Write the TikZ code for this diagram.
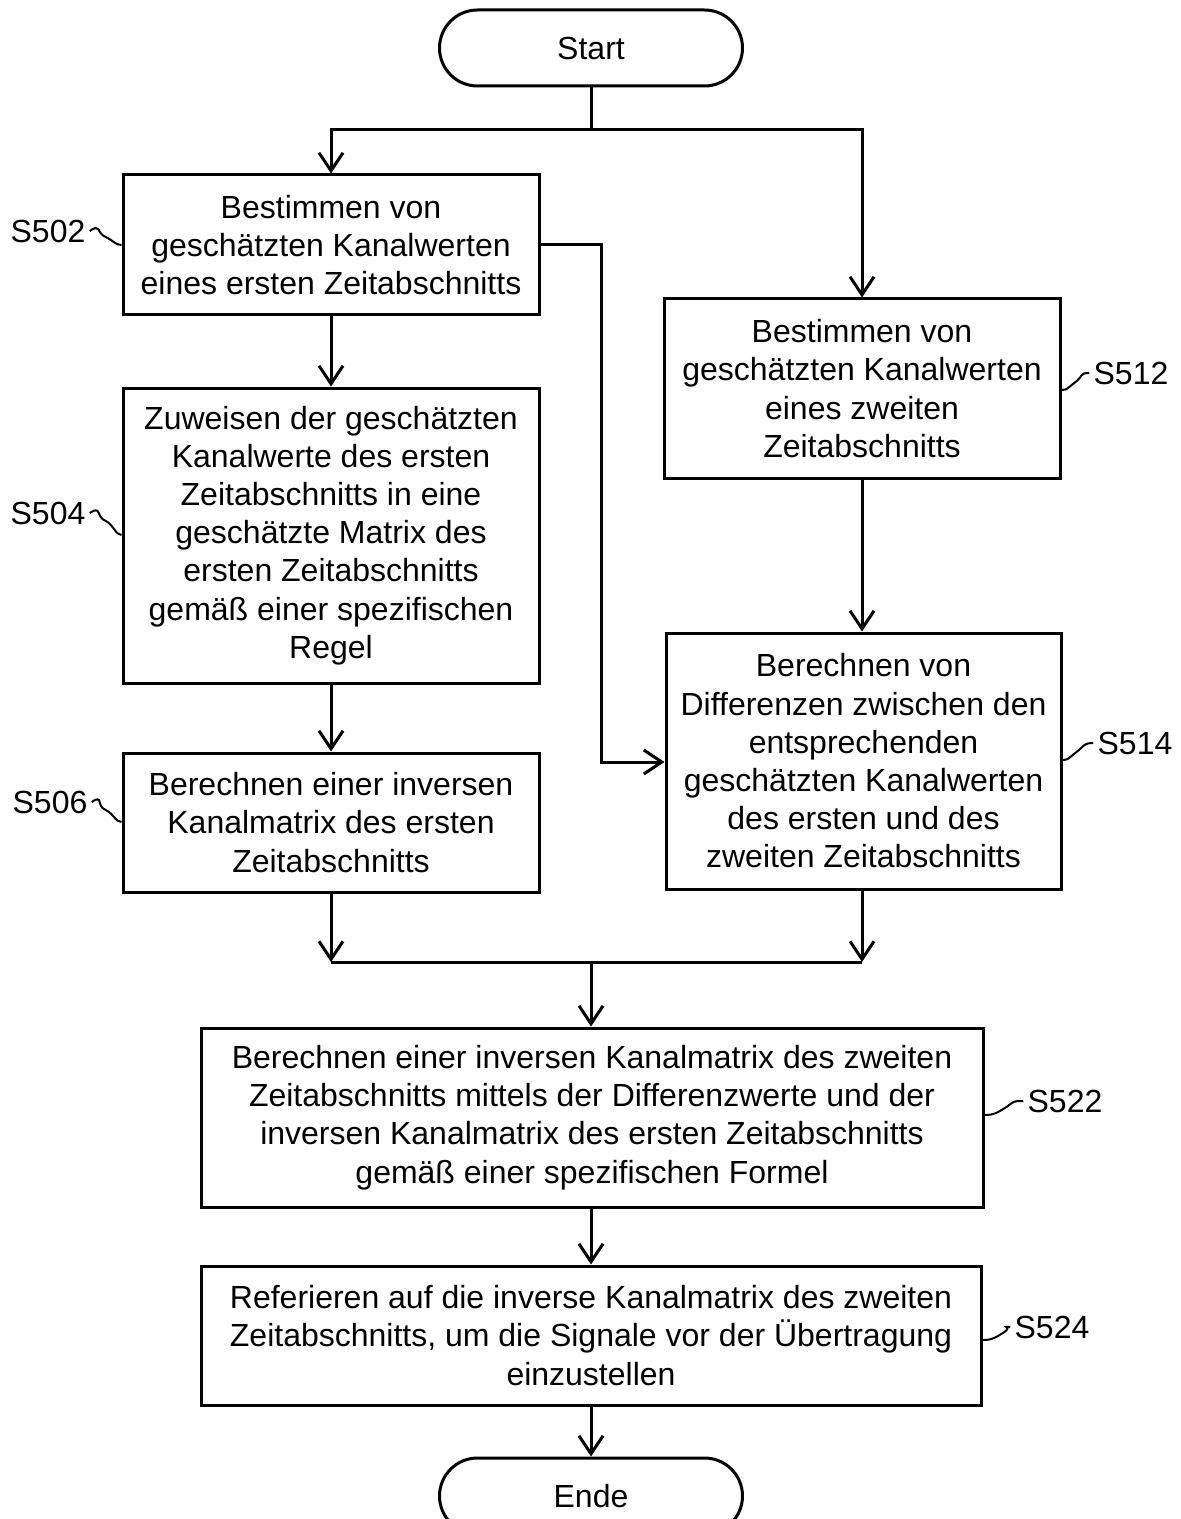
\documentclass[tikz,border=0pt]{standalone}
\usepackage{fontspec}
\setmainfont{Liberation Sans}
\usetikzlibrary{arrows.meta,calc}
\begin{document}
\begin{tikzpicture}[x=0.5pt,y=-0.5pt,
  every node/.style={font=\fontsize{16}{19.1}\selectfont, inner sep=0pt},
  stepbox/.style={draw, line width=1.5pt, align=center},
  term/.style={draw, line width=1.5pt, rounded corners=19pt, minimum width=151.5pt, minimum height=38pt},
  conn/.style={line width=1.5pt},
  arr/.style={line width=1.5pt, -{Straight Barb[length=9pt,width=12pt,line width=1.5pt]}},
  tag/.style={anchor=center},
  squig/.style={line width=1pt}]
\useasboundingbox (0,0) rectangle (1181,1519);

\node[term] (start) at (591,48) {Start};
\node[stepbox, minimum width=208pt, minimum height=70pt] (s502) at (331,245)
  {Bestimmen von\\geschätzten Kanalwerten\\eines ersten Zeitabschnitts};
\node[stepbox, minimum width=208pt, minimum height=147.5pt] (s504) at (331,535.5)
  {Zuweisen der geschätzten\\Kanalwerte des ersten\\Zeitabschnitts in eine\\geschätzte Matrix des\\ersten Zeitabschnitts\\gemäß einer spezifischen\\Regel};
\node[stepbox, minimum width=208pt, minimum height=69.5pt] (s506) at (331,822.5)
  {Berechnen einer inversen\\Kanalmatrix des ersten\\Zeitabschnitts};
\node[stepbox, minimum width=198pt, minimum height=89.5pt] (s512) at (862,388.5)
  {Bestimmen von\\geschätzten Kanalwerten\\eines zweiten\\Zeitabschnitts};
\node[stepbox, minimum width=197.5pt, minimum height=128pt] (s514) at (863.5,761)
  {Berechnen von\\Differenzen zwischen den\\entsprechenden\\geschätzten Kanalwerten\\des ersten und des\\zweiten Zeitabschnitts};
\node[stepbox, minimum width=391pt, minimum height=89.5pt] (s522) at (592,1117.5)
  {Berechnen einer inversen Kanalmatrix des zweiten\\Zeitabschnitts mittels der Differenzwerte und der\\inversen Kanalmatrix des ersten Zeitabschnitts\\gemäß einer spezifischen Formel};
\node[stepbox, minimum width=390pt, minimum height=69.5pt] (s524) at (591,1335.5)
  {Referieren auf die inverse Kanalmatrix des zweiten\\Zeitabschnitts, um die Signale vor der Übertragung\\einzustellen};
\node[term] (ende) at (591,1496) {Ende};

% connectors
\coordinate (split) at (591,130);
\coordinate (join) at (591,962);
\draw[conn] (start.south) -- (split);
\draw[arr] (split) -| (s502.north);
\draw[arr] (split) -| (s512.north);
\draw[arr] (s502) -- (s504);
\draw[arr] (s504) -- (s506);
\draw[arr] (s512.south -| 862,0) -- (s514.north -| 862,0);
\draw[arr] (s502.east) -- (601,245) -- (601,762) -- (s514.west |- 0,762);
\draw[arr] (s506.south) -- (s506.south |- join);
\draw[arr] (s514.south -| 862,0) -- (862,962);
\draw[conn] (331,962) -- (862,962);
\draw[arr] (join) -- (s522.north -| join);
\draw[arr] (s522.south -| 591,0) -- (s524.north);
\draw[arr] (s524.south) -- (ende.north);

% step labels
\node[tag] (l502) at (48,231) {S502};
\node[tag] (l504) at (48,513) {S504};
\node[tag] (l506) at (50,802) {S506};
\node[tag] (l512) at (1131,373) {S512};
\node[tag] (l514) at (1135,743) {S514};
\node[tag] (l522) at (1065,1101) {S522};
\node[tag] (l524) at (1052,1327) {S524};

\draw[squig] (l502.east) ++(4,0) .. controls +(12,-8) and +(-10,-4) .. ++(16,6) .. controls +(8,4) and +(-6,0) .. (s502.west |- 0,245);
\draw[squig] (l504.east) ++(4,0) .. controls +(12,-8) and +(-10,-4) .. ++(16,8) .. controls +(8,4) and +(-6,0) .. (s504.west |- 0,535);
\draw[squig] (l506.east) ++(4,0) .. controls +(12,-8) and +(-10,-4) .. ++(14,8) .. controls +(8,4) and +(-6,0) .. (s506.west |- 0,822);
\draw[squig] (s512.east |- 0,390) .. controls +(6,0) and +(-8,6) .. ++(14,-8) .. controls +(8,-6) and +(-10,0) .. ($(l512.west)+(-4,0)$);
\draw[squig] (s514.east |- 0,760) .. controls +(6,0) and +(-8,6) .. ++(14,-8) .. controls +(8,-6) and +(-10,0) .. ($(l514.west)+(-4,0)$);
\draw[squig] (s522.east |- 0,1115) .. controls +(10,0) and +(-10,6) .. ++(22,-8) .. controls +(8,-6) and +(-10,0) .. ($(l522.west)+(-4,0)$);
\draw[squig] (s524.east |- 0,1340) .. controls +(10,0) and +(-10,6) .. ++(22,-8) .. controls +(8,-6) and +(-10,0) .. ($(l524.west)+(-4,0)$);
\end{tikzpicture}
\end{document}
